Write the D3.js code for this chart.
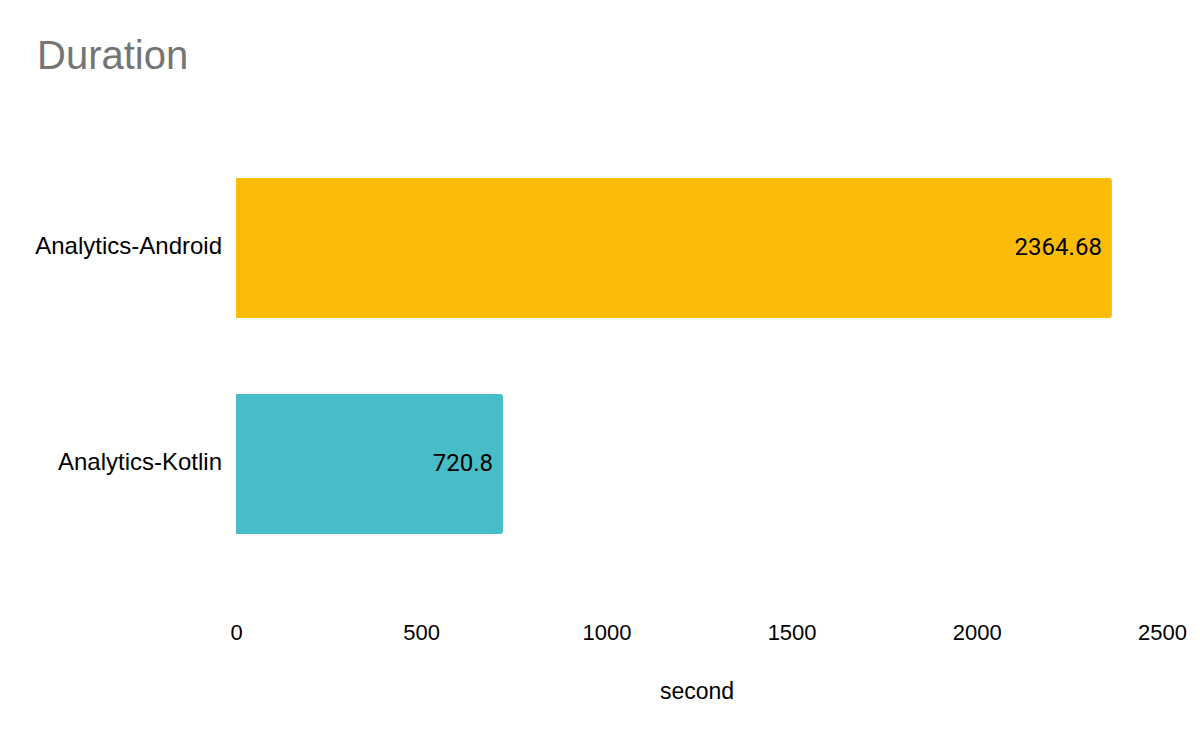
<!doctype html>
<html>
<head>
<meta charset="utf-8">
<title>Duration</title>
<script src="https://cdn.jsdelivr.net/npm/d3@7"></script>
<style>
  body { margin: 0; background: #fff; }
  svg { display: block; }
</style>
</head>
<body>
<div id="chart"></div>
<script>
    // data
    var categories = ["Analytics-Android", "Analytics-Kotlin"];
    var durations = [2364.68, 720.8];
    var barColors = ["#FBBC09", "#47BEC7"];
    var tickValues = [0, 500, 1000, 1500, 2000, 2500];

    var width = 1200, height = 742;
    var font = "Liberation Sans, Arial, sans-serif";

    var svg = d3.select("#chart").append("svg")
        .attr("width", width)
        .attr("height", height);

    var x = d3.scaleLinear()
        .domain([0, 2500])
        .range([236, 1162]);

    var y = d3.scaleBand()
        .domain(categories)
        .range([140, 572])
        .paddingInner(0.352)
        .paddingOuter(0.176);

    // title
    svg.append("text")
        .attr("x", 37)
        .attr("y", 69)
        .text("Duration")
        .attr("fill", "#757575")
        .attr("font-family", font)
        .attr("font-size", "40px");

    // bars, rounded on the right end only
    var r = 3;
    function barPath(d, i) {
        var x0 = x(0), x1 = x(d), y0 = y(categories[i]), h = y.bandwidth();
        return "M" + x0 + "," + y0 +
            "H" + (x1 - r) +
            "Q" + x1 + "," + y0 + " " + x1 + "," + (y0 + r) +
            "V" + (y0 + h - r) +
            "Q" + x1 + "," + (y0 + h) + " " + (x1 - r) + "," + (y0 + h) +
            "H" + x0 + "Z";
    }

    svg.selectAll(".bar")
        .data(durations)
        .enter().append("path")
        .attr("class", "bar")
        .attr("d", barPath)
        .attr("fill", function(d, i) { return barColors[i]; });

    // value labels inside bar end
    svg.selectAll(".val")
        .data(durations)
        .enter().append("text")
        .attr("class", "val")
        .attr("x", function(d) { return x(d) - 10; })
        .attr("y", function(d, i) { return y(categories[i]) + y.bandwidth() / 2; })
        .attr("dy", "0.3em")
        .attr("text-anchor", "end")
        .attr("font-family", "Roboto, sans-serif")
        .attr("font-size", "24px")
        .attr("fill", "#000")
        .text(function(d) { return d; });

    // category axis
    var yAxis = svg.append("g")
        .attr("transform", "translate(" + x(0) + ",0)")
        .call(d3.axisLeft(y).tickSize(0).tickPadding(14));
    yAxis.select(".domain").remove();
    yAxis.selectAll("text")
        .attr("dy", "0.25em")
        .attr("font-family", font)
        .attr("font-size", "24px")
        .attr("fill", "#000");

    // value axis
    var xAxis = svg.append("g")
        .attr("transform", "translate(0,612)")
        .call(d3.axisBottom(x).tickValues(tickValues).tickFormat(d3.format("d")).tickSize(0).tickPadding(12));
    xAxis.select(".domain").remove();
    xAxis.selectAll("text")
        .attr("font-family", font)
        .attr("font-size", "22px")
        .attr("fill", "#000");

    // axis title
    svg.append("text")
        .attr("x", (x.range()[0] + x.range()[1]) / 2 - 2)
        .attr("y", 699)
        .attr("text-anchor", "middle")
        .attr("font-family", font)
        .attr("font-size", "23px")
        .attr("fill", "#000")
        .text("second");
</script>
</body>
</html>
